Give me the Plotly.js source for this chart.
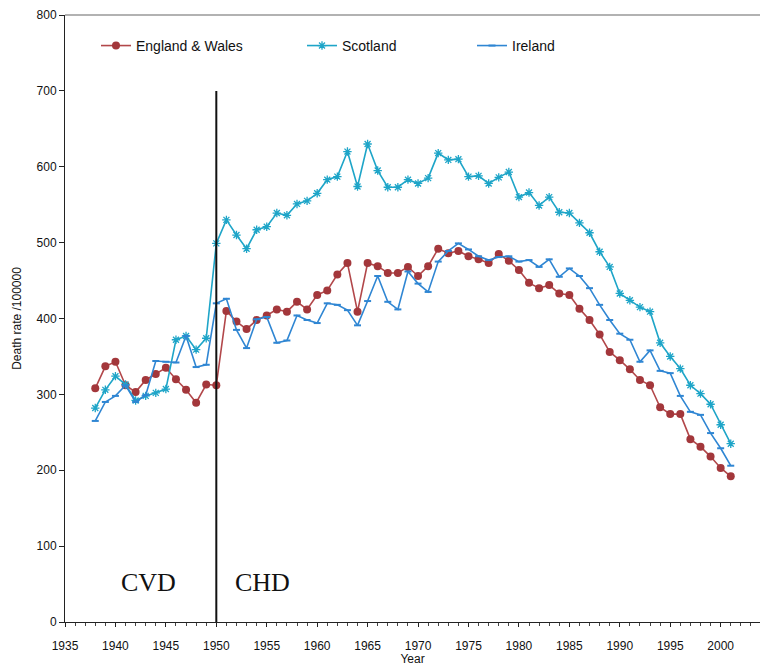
<!DOCTYPE html>
<html>
<head>
<meta charset="utf-8">
<script src="https://cdn.plot.ly/plotly-3.0.1.min.js"></script>
<style>html,body{margin:0;padding:0;background:#fff;}#chart{width:760px;height:666px;}</style>
</head>
<body>
<div id="chart"></div>
<script>
const years = [];
for (let y = 1938; y <= 2001; y++) years.push(y);

const englandWales = [308,337,343,312,303,319,327,335,320,306,289,313,312,
  410,396,386,398,404,412,409,422,412,431,437,458,473,409,473,469,460,460,468,456,469,492,486,489,482,478,473,485,476,464,447,440,444,433,431,413,398,379,356,345,333,319,312,283,274,274,241,231,218,203,192];
const scotland = [282,306,324,313,292,298,302,307,372,377,359,374,499,
  530,510,492,517,521,539,536,551,555,565,583,587,620,574,630,595,573,573,583,578,585,618,609,610,587,588,578,586,593,560,566,549,560,540,539,526,513,488,468,433,424,415,409,368,350,334,312,301,287,260,235];
const ireland = [265,290,298,312,290,299,344,343,342,377,336,339,420,
  426,385,361,399,402,368,371,404,398,394,420,418,411,391,423,456,422,412,462,446,435,475,489,499,491,482,477,481,482,475,477,468,478,455,466,456,440,418,398,380,372,343,358,331,328,298,277,273,249,229,206];

const seriesNames = ["England & Wales", "Scotland", "Ireland"];
const xTicks = [1935,1940,1945,1950,1955,1960,1965,1970,1975,1980,1985,1990,1995,2000];
const yTicks = [0,100,200,300,400,500,600,700,800];
const dividerYear = 1950;
const dividerTop = 700;
const regionLabels = ["CVD", "CHD"];

const traces = [
  {x: years, y: englandWales, name: seriesNames[0], mode: 'lines+markers', legend: 'legend',
   line: {color: '#B2474A', width: 1.6},
   marker: {symbol: 'circle', size: 8, color: '#A3373B'}},
  {x: years, y: scotland, name: seriesNames[1], mode: 'lines+markers', legend: 'legend2',
   line: {color: '#1EA5C8', width: 1.6},
   marker: {symbol: 'asterisk-open', size: 7, line: {color: '#1A9CBE', width: 1.3}}},
  {x: years, y: ireland, name: seriesNames[2], mode: 'lines+markers', legend: 'legend3',
   line: {color: '#2F86D3', width: 1.6},
   marker: {symbol: 'line-ew-open', size: 5, line: {color: '#2F86D3', width: 2}}}
];

const font = {family: 'Liberation Sans, Arial, sans-serif', size: 12, color: '#111'};
const legendBase = {orientation: 'h', yanchor: 'middle', y: 0.949, xanchor: 'left',
  bgcolor: 'rgba(0,0,0,0)', font: {family: 'Liberation Sans, Arial, sans-serif', size: 14, color: '#111'}};

const layout = {
  width: 760, height: 666,
  margin: {l: 65, r: 0, t: 15, b: 44},
  paper_bgcolor: '#fff', plot_bgcolor: '#fff',
  font: font,
  showlegend: true,
  legend: Object.assign({}, legendBase, {x: (96-65)/695}),
  legend2: Object.assign({}, legendBase, {x: (302-65)/695}),
  legend3: Object.assign({}, legendBase, {x: (472-65)/695}),
  xaxis: {
    range: [1935, 2003.9], tickvals: xTicks, ticktext: xTicks.map(String),
    showgrid: false, zeroline: false, showline: true, linecolor: '#222', linewidth: 1,
    ticks: 'outside', ticklen: 4, tickcolor: '#222', ticklabelstandoff: 9,
    minor: {dtick: 1, tick0: 1935, ticks: 'outside', ticklen: 3, tickcolor: '#444', showgrid: false},
    tickfont: {size: 12}, title: {text: 'Year', font: {size: 12}, standoff: 0}
  },
  yaxis: {
    range: [0, 800], tickvals: yTicks, showgrid: false, zeroline: false,
    showline: true, linecolor: '#222', linewidth: 1,
    ticks: 'outside', ticklen: 5, tickcolor: '#222',
    tickfont: {size: 12}, title: {text: 'Death rate /100000', font: {size: 12}, standoff: 12}
  },
  shapes: [
    {type: 'line', xref: 'x', yref: 'y', x0: dividerYear, x1: dividerYear, y0: 0, y1: dividerTop,
     line: {color: '#111', width: 2}},
    {type: 'line', xref: 'paper', yref: 'paper', x0: 0, x1: 1, y0: 1, y1: 1,
     line: {color: '#999', width: 1.5}}
  ],
  annotations: [
    {x: 1943.3, y: 52, xref: 'x', yref: 'y', text: regionLabels[0], showarrow: false,
     font: {family: 'Liberation Serif, Times New Roman, serif', size: 26, color: '#111'}},
    {x: 1954.6, y: 52, xref: 'x', yref: 'y', text: regionLabels[1], showarrow: false,
     font: {family: 'Liberation Serif, Times New Roman, serif', size: 26, color: '#111'}}
  ]
};

Plotly.newPlot('chart', traces, layout, {displayModeBar: false, staticPlot: true});
</script>
</body>
</html>
